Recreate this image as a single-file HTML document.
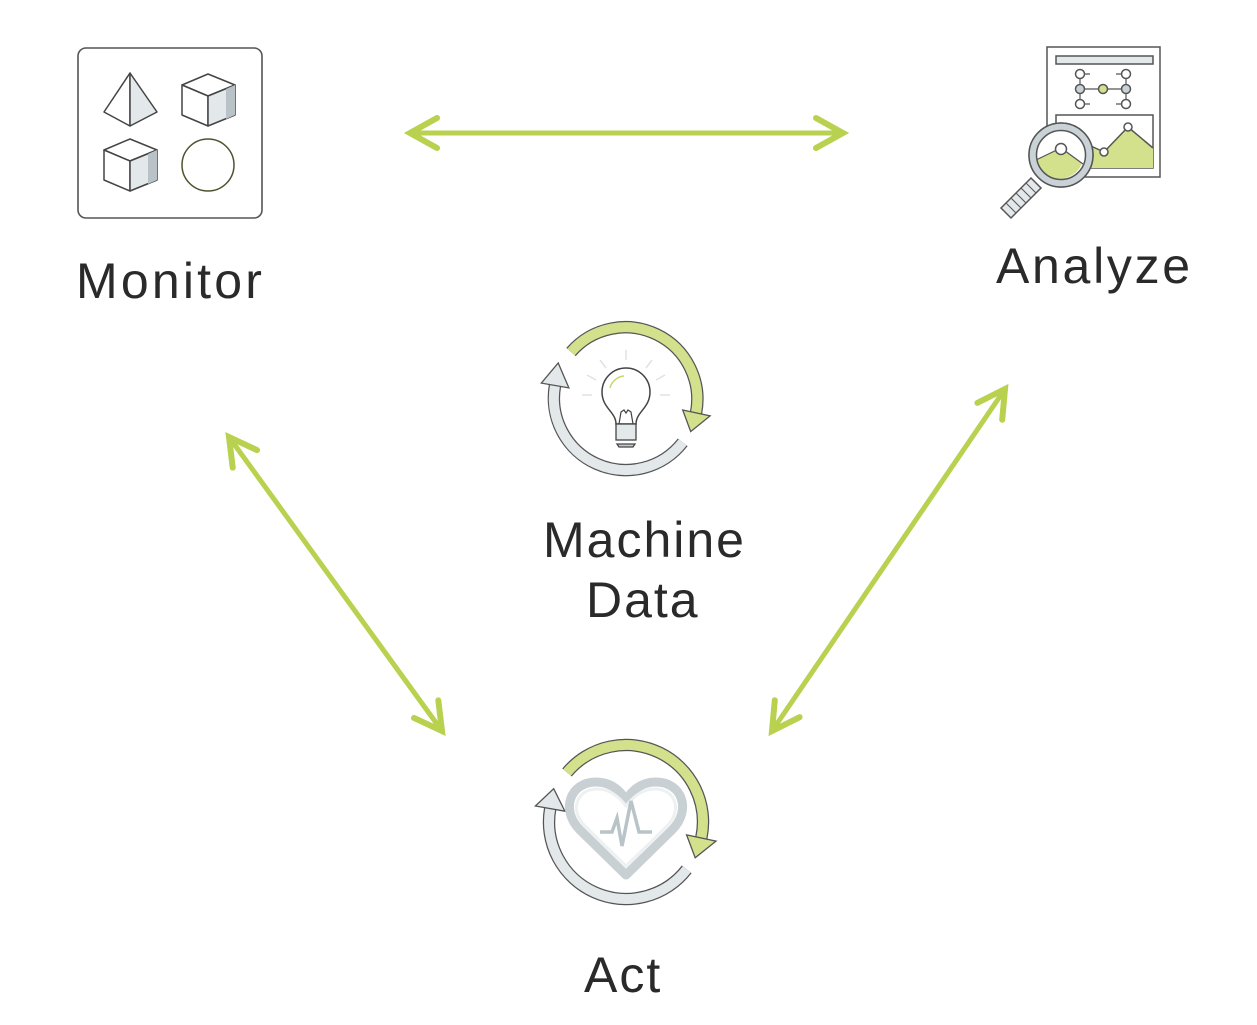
<!DOCTYPE html>
<html><head><meta charset="utf-8"><style>
html,body{margin:0;padding:0;background:#fff;width:1257px;height:1025px;overflow:hidden}
svg{position:absolute;left:0;top:0}
.t{font-family:"Liberation Sans",sans-serif;font-size:50px;fill:#2a2a2a;letter-spacing:2px}
</style></head><body>
<svg width="1257" height="1025" viewBox="0 0 1257 1025">
<defs>
<marker id="m" viewBox="-32 -20 40 40" markerWidth="40" markerHeight="40" refX="0" refY="0" orient="auto-start-reverse" markerUnits="userSpaceOnUse">
<path d="M-27 -15 L0 0 L-27 15" fill="none" stroke="#b8d14f" stroke-width="6" stroke-linecap="round" stroke-linejoin="miter"/>
</marker>
</defs>
<g stroke="#b8d14f" stroke-width="5" fill="none">
<line x1="410" y1="133" x2="843" y2="133" marker-start="url(#m)" marker-end="url(#m)"/>
<line x1="229" y1="437" x2="442" y2="731" marker-start="url(#m)" marker-end="url(#m)"/>
<line x1="1005" y1="389" x2="772" y2="731" marker-start="url(#m)" marker-end="url(#m)"/>
</g>

<!-- Monitor -->
<rect x="78" y="48" width="184" height="170" rx="8" fill="none" stroke="#555" stroke-width="1.6"/>
<g stroke="#444" stroke-width="1.5" stroke-linejoin="round">
<polygon points="130,73 104,112 130,126" fill="#fff"/>
<polygon points="130,73 157,112 130,126" fill="#e3e8ea"/>
<polygon points="182,85 208,74 235,85 208,96" fill="#fff"/>
<polygon points="182,85 208,96 208,126 182,115" fill="#fff"/>
<polygon points="208,96 235,85 235,115 208,126" fill="#e3e8ea"/>
<polygon points="226,89 235,85 235,115 226,119" fill="#b9c2c6" stroke="none"/>
<polygon points="104,150 130,139 157,150 130,161" fill="#fff"/>
<polygon points="104,150 130,161 130,191 104,180" fill="#fff"/>
<polygon points="130,161 157,150 157,180 130,191" fill="#e3e8ea"/>
<polygon points="148,154 157,150 157,180 148,184" fill="#b9c2c6" stroke="none"/>
</g>
<circle cx="208" cy="165" r="26" fill="#fff" stroke="#4f5130" stroke-width="1.5"/>
<text class="t" x="76" y="298" style="letter-spacing:3.2px">Monitor</text>

<!-- Analyze -->
<g stroke="#555" stroke-width="1.5">
<rect x="1047" y="47" width="113" height="130" fill="#fff"/>
<rect x="1056" y="56" width="97" height="8" fill="#e3e8ea"/>
<path d="M1080 74 V104 M1080 89 H1126 M1126 74 V104 M1080 74 H1090 M1080 104 H1090 M1116 74 H1126 M1116 104 H1126" fill="none" stroke-width="1.2"/>
<circle cx="1080" cy="74" r="4.5" fill="#fff"/><circle cx="1080" cy="89" r="4.5" fill="#c9d3d7"/><circle cx="1080" cy="104" r="4.5" fill="#fff"/>
<circle cx="1103" cy="89" r="4.5" fill="#d3e08c"/>
<circle cx="1126" cy="74" r="4.5" fill="#fff"/><circle cx="1126" cy="89" r="4.5" fill="#c9d3d7"/><circle cx="1126" cy="104" r="4.5" fill="#fff"/>
<rect x="1056" y="115" width="97" height="53" fill="#fff"/>
<polygon points="1056,130 1104,152 1128,127 1153,148 1153,168 1056,168" fill="#d3e08c" stroke="none"/>
<polyline points="1056,130 1104,152 1128,127 1153,148" fill="none"/>
<circle cx="1104" cy="152" r="4" fill="#fff"/><circle cx="1128" cy="127" r="4" fill="#fff"/>
<polygon points="1001,208 1031,178 1041,188 1011,218" fill="#e3e8ea"/>
<path d="M1006 203 L1016 213 M1011 198 L1021 208 M1016 193 L1026 203 M1021 188 L1031 198 M1026 183 L1036 193" stroke-width="1"/>
<circle cx="1061" cy="155" r="32" fill="#fff"/>
<path d="M1036 160 L1050 154 L1061 147 L1082 163 A24 24 0 0 1 1036 160 Z" fill="#d3e08c" stroke="none"/>
<polyline points="1036,160 1061,148 1083,164" fill="none" stroke-width="1.2"/>
<circle cx="1061" cy="149" r="5.5" fill="#fff"/>
<circle cx="1061" cy="155" r="28" fill="none" stroke="#c9d3d7" stroke-width="7"/>
<circle cx="1061" cy="155" r="32" fill="none"/>
<circle cx="1061" cy="155" r="24.5" fill="none"/>
</g>
<text class="t" x="996" y="283" style="letter-spacing:2.7px">Analyze</text>

<!-- Machine data cycle -->
<g stroke-linejoin="miter">
<path d="M571 352 A72 72 0 0 1 696 413" fill="none" stroke="#555" stroke-width="12.5"/>
<path d="M571 352 A72 72 0 0 1 696 413" fill="none" stroke="#d3e08c" stroke-width="10"/>
<polygon points="682.7,410 710.1,415.9 690.7,431.6" fill="#d3e08c" stroke="#555" stroke-width="1.3"/>
<path d="M682.7 442.3 A72 72 0 0 1 555 385.5" fill="none" stroke="#555" stroke-width="12.5"/>
<path d="M682.7 442.3 A72 72 0 0 1 555 385.5" fill="none" stroke="#e3e8ea" stroke-width="10"/>
<polygon points="568.9,387.9 541.3,383.1 558.2,363" fill="#e3e8ea" stroke="#555" stroke-width="1.3"/>
</g>
<g stroke="#dde3e5" stroke-width="1.5">
<line x1="626" y1="350" x2="626" y2="360"/><line x1="600" y1="360" x2="606" y2="368"/><line x1="652" y1="360" x2="646" y2="368"/>
<line x1="587" y1="375" x2="596" y2="380"/><line x1="665" y1="375" x2="656" y2="380"/>
<line x1="582" y1="395" x2="592" y2="395"/><line x1="660" y1="395" x2="670" y2="395"/>
</g>
<path d="M616 424 C616 412 602 408 602 392 A24 24 0 0 1 650 392 C650 408 636 412 636 424 Z" fill="#fff" stroke="#444" stroke-width="1.5"/>
<path d="M610 388 A16 16 0 0 1 624 376" fill="none" stroke="#c7d86a" stroke-width="1.5"/>
<path d="M619 424 L621 412 L624 410 L626 413 L628 410 L631 412 L633 424" fill="none" stroke="#444" stroke-width="1.2"/>
<rect x="616" y="424" width="20" height="16" fill="#e3e8ea" stroke="#444" stroke-width="1.3"/>
<path d="M617 444 H635 L633 447 H619 Z" fill="#c3cbcf" stroke="#444" stroke-width="1.3"/>
<text class="t" x="543" y="557">Machine</text>
<text class="t" x="586" y="617">Data</text>

<!-- Act cycle -->
<g>
<path d="M567 772.5 A77 77 0 0 1 701.3 838" fill="none" stroke="#555" stroke-width="12.5"/>
<path d="M567 772.5 A77 77 0 0 1 701.3 838" fill="none" stroke="#d3e08c" stroke-width="10"/>
<polygon points="686.6,834.9 716,841.1 695.2,857.8" fill="#d3e08c" stroke="#555" stroke-width="1.3"/>
<path d="M686.7 869.4 A77 77 0 0 1 550.2 808.6" fill="none" stroke="#555" stroke-width="12.5"/>
<path d="M686.7 869.4 A77 77 0 0 1 550.2 808.6" fill="none" stroke="#e3e8ea" stroke-width="10"/>
<polygon points="564.9,811.2 535.4,806 553.7,788.7" fill="#e3e8ea" stroke="#555" stroke-width="1.3"/>
</g>
<path d="M626 875 L580 830 C560 810 570 782 596 782 C612 782 621 792 626 800 C631 792 640 782 656 782 C682 782 692 810 672 830 Z" fill="#fff" stroke="#c8d0d3" stroke-width="9" stroke-linejoin="round"/>
<path d="M626 866 L585 826 C569 810 577 789 597 789 C611 789 620 798 626 806 C632 798 641 789 655 789 C675 789 683 810 667 826 Z" fill="none" stroke="#eef1f2" stroke-width="3"/>
<polyline points="600,832 612,832 617,818 622,846 631,801 639,832 652,832" fill="none" stroke="#b9c4c8" stroke-width="3.5" stroke-linejoin="miter"/>
<text class="t" x="584" y="992">Act</text>
</svg>
</body></html>
